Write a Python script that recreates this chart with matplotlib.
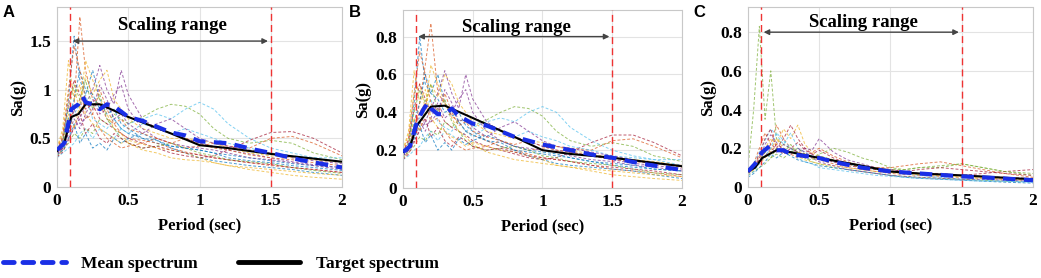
import matplotlib
matplotlib.use("Agg")
import matplotlib.pyplot as plt
from matplotlib.lines import Line2D

# periods of the individual record spectra
T_rec = [0, 0.04, 0.08, 0.12, 0.16, 0.2, 0.25, 0.3, 0.35, 0.4, 0.45, 0.5,
         0.6, 0.7, 0.8, 0.9, 1.0, 1.1, 1.2, 1.35, 1.5, 1.65, 1.8, 2.0]

recs_a = [
    [0.35, 0.45, 0.9, 1.55, 1.1, 0.95, 1.2, 0.9, 0.75, 0.8, 0.65, 0.6, 0.5, 0.45, 0.42, 0.40, 0.38, 0.35, 0.33, 0.30, 0.27, 0.24, 0.22, 0.20],
    [0.30, 0.40, 0.6, 0.85, 1.75, 1.2, 0.9, 0.85, 0.7, 0.65, 0.55, 0.5, 0.48, 0.45, 0.40, 0.36, 0.33, 0.30, 0.28, 0.25, 0.22, 0.20, 0.18, 0.15],
    [0.40, 0.55, 0.95, 1.0, 0.8, 1.15, 0.95, 1.1, 1.2, 0.9, 0.8, 0.7, 0.6, 0.55, 0.5, 0.5, 0.48, 0.45, 0.4, 0.35, 0.32, 0.3, 0.28, 0.25],
    [0.35, 0.4, 0.5, 0.6, 0.7, 0.85, 1.0, 1.25, 1.0, 0.85, 1.2, 0.95, 0.7, 0.6, 0.55, 0.5, 0.45, 0.42, 0.38, 0.34, 0.30, 0.26, 0.23, 0.20],
    [0.32, 0.38, 0.45, 0.55, 0.5, 0.6, 0.55, 0.7, 0.65, 0.75, 0.7, 0.65, 0.72, 0.8, 0.85, 0.83, 0.75, 0.6, 0.5, 0.45, 0.48, 0.45, 0.35, 0.28],
    [0.3, 0.35, 0.4, 0.45, 0.55, 0.6, 0.5, 0.6, 0.55, 0.5, 0.6, 0.65, 0.7, 0.75, 0.7, 0.8, 0.87, 0.8, 0.65, 0.5, 0.4, 0.35, 0.3, 0.25],
    [0.38, 0.5, 0.85, 1.1, 0.95, 0.8, 0.85, 0.7, 0.65, 0.6, 0.55, 0.5, 0.45, 0.4, 0.35, 0.32, 0.3, 0.32, 0.38, 0.48, 0.56, 0.57, 0.5, 0.35],
    [0.36, 0.45, 0.7, 0.9, 1.2, 1.0, 0.95, 0.8, 0.85, 0.7, 0.6, 0.55, 0.5, 0.48, 0.4, 0.35, 0.3, 0.27, 0.25, 0.22, 0.2, 0.18, 0.15, 0.12],
    [0.33, 0.42, 0.65, 0.8, 0.9, 0.7, 0.75, 0.6, 0.5, 0.45, 0.4, 0.42, 0.45, 0.5, 0.45, 0.4, 0.42, 0.45, 0.42, 0.4, 0.5, 0.52, 0.45, 0.32],
    [0.4, 0.6, 1.3, 0.9, 1.05, 0.75, 0.65, 0.6, 0.55, 0.5, 0.45, 0.48, 0.44, 0.4, 0.38, 0.35, 0.3, 0.25, 0.22, 0.18, 0.15, 0.12, 0.1, 0.08],
    [0.34, 0.4, 0.55, 0.7, 0.6, 0.75, 0.9, 0.75, 0.8, 0.95, 1.05, 0.8, 0.6, 0.5, 0.45, 0.42, 0.4, 0.38, 0.35, 0.3, 0.28, 0.25, 0.22, 0.18],
    [0.37, 0.48, 0.8, 1.05, 0.9, 1.1, 0.8, 0.95, 0.7, 0.6, 0.5, 0.45, 0.4, 0.42, 0.45, 0.4, 0.35, 0.32, 0.28, 0.26, 0.24, 0.2, 0.17, 0.14],
    [0.36, 0.42, 0.6, 0.75, 0.85, 0.95, 0.7, 0.65, 0.6, 0.7, 0.6, 0.55, 0.65, 0.6, 0.55, 0.6, 0.55, 0.5, 0.45, 0.4, 0.35, 0.32, 0.3, 0.3],
    [0.31, 0.36, 0.48, 0.62, 0.75, 0.55, 0.65, 0.5, 0.45, 0.55, 0.5, 0.45, 0.4, 0.42, 0.38, 0.35, 0.33, 0.3, 0.28, 0.25, 0.23, 0.2, 0.18, 0.15],
    [0.33, 0.38, 0.5, 0.65, 0.45, 0.55, 0.4, 0.45, 0.38, 0.5, 0.45, 0.5, 0.55, 0.48, 0.42, 0.4, 0.38, 0.35, 0.3, 0.27, 0.25, 0.22, 0.2, 0.17],
    [0.39, 0.52, 1.0, 1.45, 1.2, 0.9, 0.75, 1.0, 0.8, 0.65, 0.7, 0.6, 0.55, 0.5, 0.45, 0.5, 0.45, 0.4, 0.38, 0.33, 0.3, 0.28, 0.25, 0.22],
    [0.35, 0.44, 0.75, 0.6, 0.85, 1.3, 1.1, 0.9, 0.75, 0.6, 0.55, 0.45, 0.38, 0.35, 0.3, 0.28, 0.27, 0.25, 0.22, 0.2, 0.18, 0.16, 0.14, 0.12],
    [0.34, 0.4, 0.55, 0.8, 0.65, 0.7, 0.8, 1.05, 0.9, 0.7, 0.75, 0.65, 0.55, 0.65, 0.7, 0.6, 0.5, 0.45, 0.42, 0.38, 0.35, 0.3, 0.27, 0.24],
]

recs_b = [
    [0.18, 0.22, 0.45, 0.8, 0.55, 0.5, 0.6, 0.45, 0.38, 0.4, 0.33, 0.3, 0.25, 0.22, 0.2, 0.19, 0.18, 0.17, 0.16, 0.14, 0.12, 0.11, 0.1, 0.09],
    [0.15, 0.2, 0.3, 0.45, 0.65, 0.87, 0.5, 0.45, 0.38, 0.35, 0.3, 0.28, 0.25, 0.22, 0.2, 0.18, 0.16, 0.15, 0.14, 0.12, 0.1, 0.09, 0.08, 0.06],
    [0.2, 0.28, 0.5, 0.55, 0.42, 0.55, 0.48, 0.6, 0.55, 0.45, 0.4, 0.35, 0.3, 0.28, 0.26, 0.25, 0.24, 0.22, 0.2, 0.18, 0.16, 0.15, 0.14, 0.12],
    [0.18, 0.2, 0.25, 0.3, 0.35, 0.42, 0.5, 0.62, 0.5, 0.42, 0.6, 0.47, 0.35, 0.3, 0.27, 0.25, 0.22, 0.2, 0.19, 0.17, 0.15, 0.13, 0.12, 0.1],
    [0.16, 0.19, 0.22, 0.27, 0.25, 0.3, 0.28, 0.35, 0.32, 0.36, 0.35, 0.33, 0.36, 0.4, 0.43, 0.42, 0.38, 0.3, 0.25, 0.22, 0.24, 0.22, 0.17, 0.14],
    [0.15, 0.17, 0.2, 0.22, 0.27, 0.3, 0.25, 0.3, 0.28, 0.25, 0.3, 0.32, 0.35, 0.37, 0.35, 0.4, 0.43, 0.4, 0.32, 0.25, 0.2, 0.17, 0.15, 0.12],
    [0.19, 0.25, 0.42, 0.55, 0.47, 0.4, 0.42, 0.35, 0.32, 0.3, 0.28, 0.25, 0.22, 0.2, 0.18, 0.16, 0.15, 0.16, 0.19, 0.24, 0.28, 0.28, 0.24, 0.17],
    [0.18, 0.22, 0.35, 0.45, 0.6, 0.5, 0.47, 0.4, 0.42, 0.35, 0.3, 0.28, 0.25, 0.24, 0.2, 0.17, 0.15, 0.13, 0.12, 0.11, 0.1, 0.09, 0.07, 0.05],
    [0.17, 0.21, 0.32, 0.4, 0.45, 0.35, 0.37, 0.3, 0.25, 0.22, 0.2, 0.21, 0.22, 0.25, 0.22, 0.2, 0.21, 0.22, 0.21, 0.2, 0.25, 0.26, 0.22, 0.16],
    [0.2, 0.3, 0.62, 0.45, 0.52, 0.37, 0.32, 0.3, 0.27, 0.25, 0.22, 0.24, 0.22, 0.2, 0.19, 0.17, 0.15, 0.12, 0.11, 0.09, 0.07, 0.06, 0.05, 0.04],
    [0.17, 0.2, 0.27, 0.35, 0.3, 0.37, 0.45, 0.37, 0.4, 0.47, 0.52, 0.4, 0.3, 0.25, 0.22, 0.21, 0.2, 0.19, 0.17, 0.15, 0.14, 0.12, 0.11, 0.09],
    [0.18, 0.24, 0.4, 0.52, 0.45, 0.55, 0.4, 0.47, 0.35, 0.3, 0.25, 0.22, 0.2, 0.21, 0.22, 0.2, 0.17, 0.16, 0.14, 0.13, 0.12, 0.1, 0.08, 0.07],
    [0.18, 0.21, 0.3, 0.37, 0.42, 0.47, 0.35, 0.32, 0.3, 0.35, 0.3, 0.27, 0.32, 0.3, 0.27, 0.3, 0.27, 0.25, 0.22, 0.2, 0.17, 0.16, 0.15, 0.15],
    [0.15, 0.18, 0.24, 0.31, 0.37, 0.27, 0.32, 0.25, 0.22, 0.27, 0.25, 0.22, 0.2, 0.21, 0.19, 0.17, 0.16, 0.15, 0.14, 0.12, 0.11, 0.1, 0.09, 0.07],
    [0.17, 0.2, 0.26, 0.33, 0.24, 0.28, 0.2, 0.24, 0.2, 0.26, 0.23, 0.25, 0.28, 0.25, 0.22, 0.2, 0.19, 0.18, 0.16, 0.14, 0.13, 0.12, 0.1, 0.09],
    [0.19, 0.26, 0.5, 0.72, 0.6, 0.45, 0.38, 0.5, 0.4, 0.33, 0.35, 0.3, 0.27, 0.25, 0.23, 0.25, 0.22, 0.2, 0.19, 0.17, 0.15, 0.14, 0.13, 0.11],
    [0.18, 0.22, 0.37, 0.3, 0.42, 0.65, 0.55, 0.45, 0.37, 0.3, 0.27, 0.23, 0.19, 0.17, 0.15, 0.14, 0.13, 0.12, 0.11, 0.1, 0.09, 0.08, 0.07, 0.06],
    [0.17, 0.2, 0.28, 0.4, 0.33, 0.35, 0.4, 0.52, 0.45, 0.35, 0.37, 0.32, 0.27, 0.32, 0.35, 0.3, 0.25, 0.22, 0.21, 0.19, 0.17, 0.15, 0.13, 0.12],
]

recs_c = [
    [0.1, 0.4, 0.83, 0.35, 0.6, 0.25, 0.22, 0.2, 0.18, 0.15, 0.13, 0.12, 0.1, 0.09, 0.08, 0.07, 0.06, 0.055, 0.05, 0.045, 0.04, 0.035, 0.03, 0.03],
    [0.08, 0.12, 0.2, 0.28, 0.22, 0.32, 0.25, 0.2, 0.18, 0.17, 0.15, 0.14, 0.12, 0.1, 0.09, 0.08, 0.07, 0.065, 0.06, 0.055, 0.05, 0.045, 0.04, 0.035],
    [0.07, 0.09, 0.15, 0.2, 0.25, 0.22, 0.3, 0.25, 0.32, 0.22, 0.18, 0.16, 0.14, 0.12, 0.1, 0.09, 0.08, 0.07, 0.065, 0.06, 0.05, 0.045, 0.04, 0.035],
    [0.08, 0.1, 0.13, 0.16, 0.2, 0.18, 0.22, 0.2, 0.18, 0.2, 0.19, 0.25, 0.18, 0.14, 0.12, 0.1, 0.09, 0.08, 0.07, 0.065, 0.06, 0.055, 0.05, 0.045],
    [0.06, 0.08, 0.1, 0.12, 0.15, 0.17, 0.15, 0.18, 0.2, 0.17, 0.15, 0.17, 0.2, 0.18, 0.15, 0.13, 0.1, 0.09, 0.1, 0.11, 0.12, 0.1, 0.08, 0.06],
    [0.09, 0.12, 0.18, 0.24, 0.3, 0.27, 0.22, 0.28, 0.2, 0.18, 0.16, 0.15, 0.13, 0.12, 0.1, 0.09, 0.08, 0.07, 0.06, 0.05, 0.04, 0.035, 0.03, 0.025],
    [0.07, 0.1, 0.14, 0.18, 0.22, 0.2, 0.25, 0.32, 0.25, 0.2, 0.17, 0.15, 0.13, 0.11, 0.1, 0.1, 0.09, 0.08, 0.07, 0.07, 0.06, 0.07, 0.08, 0.09],
    [0.05, 0.07, 0.1, 0.13, 0.17, 0.15, 0.18, 0.16, 0.14, 0.13, 0.12, 0.11, 0.1, 0.09, 0.08, 0.07, 0.06, 0.05, 0.045, 0.04, 0.035, 0.03, 0.025, 0.02],
    [0.08, 0.11, 0.16, 0.2, 0.18, 0.22, 0.2, 0.17, 0.15, 0.16, 0.18, 0.2, 0.16, 0.13, 0.11, 0.1, 0.1, 0.11, 0.12, 0.13, 0.11, 0.09, 0.07, 0.05],
    [0.06, 0.09, 0.12, 0.15, 0.19, 0.25, 0.2, 0.18, 0.16, 0.14, 0.13, 0.12, 0.11, 0.1, 0.09, 0.08, 0.075, 0.07, 0.065, 0.06, 0.055, 0.05, 0.045, 0.04],
    [0.07, 0.1, 0.15, 0.22, 0.27, 0.23, 0.19, 0.17, 0.2, 0.18, 0.15, 0.13, 0.11, 0.09, 0.08, 0.07, 0.06, 0.055, 0.05, 0.045, 0.04, 0.04, 0.035, 0.03],
    [0.08, 0.1, 0.13, 0.18, 0.15, 0.2, 0.18, 0.22, 0.17, 0.15, 0.14, 0.16, 0.14, 0.12, 0.1, 0.1, 0.09, 0.09, 0.1, 0.1, 0.12, 0.1, 0.08, 0.07],
    [0.06, 0.08, 0.12, 0.16, 0.2, 0.28, 0.24, 0.2, 0.15, 0.13, 0.12, 0.1, 0.09, 0.08, 0.07, 0.06, 0.055, 0.05, 0.045, 0.04, 0.035, 0.03, 0.03, 0.025],
    [0.09, 0.11, 0.17, 0.25, 0.3, 0.2, 0.17, 0.2, 0.23, 0.19, 0.17, 0.19, 0.15, 0.12, 0.1, 0.09, 0.08, 0.08, 0.09, 0.1, 0.09, 0.08, 0.07, 0.06],
]

# target (code) spectra
T_tgt = [0, 0.05, 0.1, 0.15, 0.2, 0.3, 0.5, 0.8, 1.0, 1.2, 1.5, 2.0]
tgt_a = [0.37, 0.45, 0.72, 0.75, 0.85, 0.85, 0.72, 0.55, 0.43, 0.40, 0.34, 0.26]
tgt_b = [0.19, 0.22, 0.33, 0.38, 0.43, 0.435, 0.37, 0.27, 0.20, 0.18, 0.16, 0.115]
tgt_c = [0.08, 0.10, 0.15, 0.17, 0.19, 0.18, 0.15, 0.11, 0.08, 0.07, 0.06, 0.04]

# mean spectra of the scaled records
T_mean = [0, 0.05, 0.1, 0.15, 0.18, 0.2, 0.25, 0.3, 0.35, 0.4, 0.5, 0.6,
          0.7, 0.8, 0.9, 1.0, 1.2, 1.4, 1.5, 1.7, 2.0]
mean_a = [0.38, 0.45, 0.8, 0.85, 0.93, 0.87, 0.85, 0.8, 0.85, 0.83, 0.72, 0.68,
          0.62, 0.56, 0.53, 0.47, 0.45, 0.38, 0.35, 0.28, 0.20]
mean_b = [0.19, 0.22, 0.35, 0.42, 0.45, 0.42, 0.39, 0.39, 0.42, 0.38, 0.34, 0.33,
          0.30, 0.27, 0.25, 0.23, 0.20, 0.17, 0.16, 0.13, 0.095]
mean_c = [0.08, 0.12, 0.18, 0.21, 0.20, 0.19, 0.19, 0.17, 0.165, 0.16, 0.15, 0.13,
          0.115, 0.10, 0.09, 0.08, 0.07, 0.06, 0.055, 0.048, 0.035]

panel_letters = ["A", "B", "C"]
y_limits = [1.85, 0.94, 0.93]
y_ticks = [[0, 0.5, 1, 1.5], [0, 0.2, 0.4, 0.6, 0.8], [0, 0.2, 0.4, 0.6, 0.8]]
y_ticklabels = [["0", "0.5", "1", "1.5"], ["0", "0.2", "0.4", "0.6", "0.8"],
                ["0", "0.2", "0.4", "0.6", "0.8"]]
x_ticks = [0, 0.5, 1, 1.5, 2]
x_ticklabels = ["0", "0.5", "1", "1.5", "2"]
scale_lo, scale_hi = 0.09, 1.5
arrow_y = [1.50, 0.80, 0.80]
label_y = [1.665, 0.847, 0.85]

rec_colors = ["#0072BD", "#D95319", "#EDB120", "#7E2F8E", "#77AC30",
              "#4DBEEE", "#A2142F"]

serif = "Liberation Serif"

fig = plt.figure(figsize=(10.41, 2.78), dpi=100)
positions = [[0.0548, 0.3273, 0.2738, 0.6475],
             [0.3871, 0.3237, 0.2680, 0.6400],
             [0.7185, 0.3273, 0.2738, 0.6475]]

all_recs = [recs_a, recs_b, recs_c]
all_tgt = [tgt_a, tgt_b, tgt_c]
all_mean = [mean_a, mean_b, mean_c]

for i in range(3):
    ax = fig.add_axes(positions[i])
    for k, r in enumerate(all_recs[i]):
        c = rec_colors[k % len(rec_colors)]
        if i == 2 and k == 0:
            c = "#77AC30"
        ax.plot(T_rec, r, color=c, lw=0.7, ls=(0, (3, 2)), alpha=0.7)
    ax.plot(T_tgt, all_tgt[i], color="black", lw=1.5, zorder=5)
    ax.plot(T_mean, all_mean[i], color="#1a2fe6", lw=3, ls=(0, (3, 2)), zorder=6)

    ax.axvline(scale_lo, color="#ee3333", lw=1, ls=(0, (5, 3)), zorder=4)
    ax.axvline(scale_hi, color="#ee3333", lw=1, ls=(0, (5, 3)), zorder=4)
    ax.annotate("", xy=(scale_lo + 0.02, arrow_y[i]), xytext=(scale_hi - 0.02, arrow_y[i]),
                arrowprops=dict(arrowstyle="<|-|>", color="#444444", lw=1,
                                mutation_scale=8, shrinkA=0, shrinkB=0), zorder=7)
    ax.text(0.81, label_y[i], "Scaling range", ha="center", va="center",
            family=serif, fontweight="bold", fontsize=13.5, zorder=7)

    ax.set_xlim(0, 2)
    ax.set_ylim(0, y_limits[i])
    ax.set_xticks(x_ticks)
    ax.set_xticklabels(x_ticklabels)
    ax.set_yticks(y_ticks[i])
    ax.set_yticklabels(y_ticklabels[i])
    for lab in ax.get_xticklabels() + ax.get_yticklabels():
        lab.set_family(serif)
        lab.set_fontweight("bold")
        lab.set_fontsize(12.5)
    ax.tick_params(length=0, pad=4)
    ax.grid(True, color="#e3e3e3", lw=0.8)
    ax.set_axisbelow(True)
    for s in ax.spines.values():
        s.set_color("#c8c8c8")
        s.set_linewidth(0.8)
    ax.spines["top"].set_linestyle((0, (1, 1)))
    ax.spines["right"].set_linestyle((0, (1, 1)))
    ax.set_xlabel("Period (sec)", family=serif, fontweight="bold", fontsize=12, labelpad=6)
    ax.set_ylabel("Sa(g)", family=serif, fontweight="bold", fontsize=12, labelpad=3)
    bb = positions[i]
    fig.text(bb[0] - 0.052, 0.955, panel_letters[i], family="Liberation Sans",
             fontweight="bold", fontsize=12, ha="left", va="center")

handles = [Line2D([], [], color="#1a2fe6", lw=3.5, ls=(0, (2.2, 1.8)),
                  dash_capstyle="round"),
           Line2D([], [], color="black", lw=3.5, solid_capstyle="round")]
fig.legend(handles, ["Mean spectrum", "Target spectrum"], loc="center left",
           bbox_to_anchor=(0.003, 0.05), ncol=2, frameon=False, handlelength=3.6,
           handletextpad=0.9, columnspacing=2.3, borderpad=0, borderaxespad=0,
           prop=dict(family=serif, weight="bold", size=12.5))

fig.savefig("out.png", dpi=100)
